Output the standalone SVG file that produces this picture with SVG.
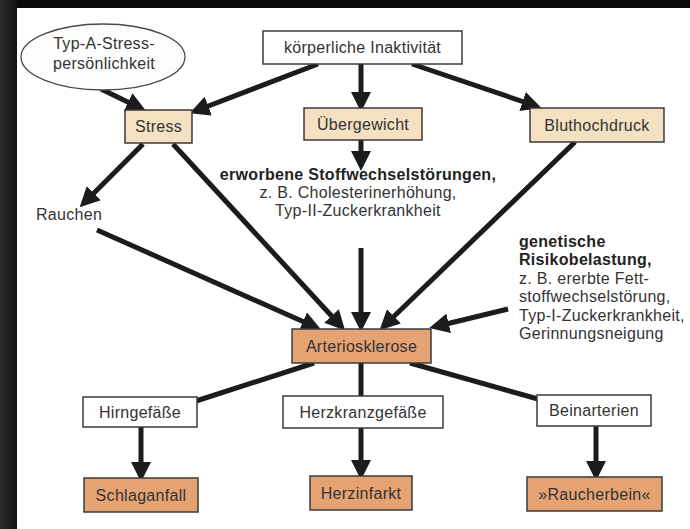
<svg xmlns="http://www.w3.org/2000/svg" width="690" height="529" viewBox="0 0 690 529">
<defs>
<style>
.bx{stroke:#3a3a3a;stroke-width:1.5}
.lt{fill:#f4e1c1}
.dk{fill:#e5a374}
.wh{fill:#ffffff}
.t{font-family:"Liberation Sans",Arial,sans-serif;font-size:16px;fill:#333;letter-spacing:0.3px}
.b{font-weight:bold;fill:#222}
.c{stroke:#1c1c1c;stroke-width:5;fill:none}
</style>
<marker id="ah" markerWidth="4" markerHeight="4" refX="2.2" refY="2" orient="auto" markerUnits="strokeWidth" viewBox="0 0 4 4">
<path d="M0,0 L4,2 L0,4 Z" fill="#1c1c1c"/>
</marker>
<linearGradient id="lg" x1="0" x2="1" y1="0" y2="0">
<stop offset="0" stop-color="#2c2c2c"/>
<stop offset="1" stop-color="#111"/>
</linearGradient>
</defs>
<rect x="0" y="0" width="690" height="529" fill="#0a0a0a"/>
<rect x="0" y="0" width="17" height="529" fill="url(#lg)"/>
<rect x="17" y="8" width="673" height="521" fill="#ffffff"/>

<g id="connectors">
<line class="c" x1="101" y1="89" x2="138" y2="107" marker-end="url(#ah)"/>
<line class="c" x1="318" y1="64" x2="198" y2="110" marker-end="url(#ah)"/>
<line class="c" x1="361" y1="64" x2="361" y2="103" marker-end="url(#ah)"/>
<line class="c" x1="412" y1="64" x2="533" y2="105" marker-end="url(#ah)"/>
<line class="c" x1="361" y1="140" x2="361" y2="162" marker-end="url(#ah)"/>
<line class="c" x1="143" y1="144" x2="86" y2="201" marker-end="url(#ah)"/>
<line class="c" x1="173" y1="144" x2="339" y2="324" marker-end="url(#ah)"/>
<line class="c" x1="97" y1="230" x2="313" y2="326" marker-end="url(#ah)"/>
<line class="c" x1="361" y1="248" x2="361" y2="323" marker-end="url(#ah)"/>
<line class="c" x1="575" y1="142" x2="386" y2="324" marker-end="url(#ah)"/>
<line class="c" x1="508" y1="309" x2="438" y2="326" marker-end="url(#ah)"/>
<line class="c" x1="314" y1="363" x2="196" y2="401"/>
<line class="c" x1="361" y1="363" x2="361" y2="396"/>
<line class="c" x1="410" y1="363" x2="538" y2="399"/>
<line class="c" x1="141" y1="427" x2="141" y2="473" marker-end="url(#ah)"/>
<line class="c" x1="361" y1="428" x2="361" y2="471" marker-end="url(#ah)"/>
<line class="c" x1="596" y1="426" x2="596" y2="472" marker-end="url(#ah)"/>
</g>

<g id="typA">
<ellipse cx="103" cy="57" rx="82" ry="33" fill="#fdfdfd" stroke="#4a4a4a" stroke-width="1.3"/>
<text class="t" x="104" y="49" text-anchor="middle">Typ-A-Stress-</text>
<text class="t" x="104" y="69" text-anchor="middle">persönlichkeit</text>
</g>

<g id="inaktivitaet">
<rect class="bx wh" x="263" y="31" width="199" height="33"/>
<text class="t" x="362.5" y="53" text-anchor="middle">körperliche Inaktivität</text>
</g>

<g id="stress">
<rect class="bx lt" x="125" y="110" width="67" height="33"/>
<text class="t" x="158.5" y="132" text-anchor="middle">Stress</text>
</g>

<g id="uebergewicht">
<rect class="bx lt" x="304" y="108" width="118" height="32"/>
<text class="t" x="363" y="130" text-anchor="middle">Übergewicht</text>
</g>

<g id="bluthochdruck">
<rect class="bx lt" x="530" y="108" width="134" height="34"/>
<text class="t" x="597" y="131" text-anchor="middle">Bluthochdruck</text>
</g>

<g id="rauchen">
<text class="t" x="36" y="220">Rauchen</text>
</g>

<g id="stoffwechsel">
<text class="t b" x="358" y="180" text-anchor="middle">erworbene Stoffwechselstörungen,</text>
<text class="t" x="358" y="198" text-anchor="middle">z. B. Cholesterinerhöhung,</text>
<text class="t" x="358" y="216" text-anchor="middle">Typ-II-Zuckerkrankheit</text>
</g>

<g id="genetisch">
<text class="t b" x="519" y="247">genetische</text>
<text class="t b" x="519" y="265">Risikobelastung,</text>
<text class="t" x="519" y="284">z. B. ererbte Fett-</text>
<text class="t" x="519" y="302">stoffwechselstörung,</text>
<text class="t" x="519" y="321">Typ-I-Zuckerkrankheit,</text>
<text class="t" x="519" y="339">Gerinnungsneigung</text>
</g>

<g id="arteriosklerose">
<rect class="bx dk" x="292" y="329" width="139" height="34"/>
<text class="t" x="361.5" y="352" text-anchor="middle">Arteriosklerose</text>
</g>

<g id="hirngefaesse">
<rect class="bx wh" x="83" y="397" width="114" height="30"/>
<text class="t" x="140" y="418" text-anchor="middle">Hirngefäße</text>
</g>

<g id="herzkranzgefaesse">
<rect class="bx wh" x="283" y="396" width="160" height="32"/>
<text class="t" x="363" y="418" text-anchor="middle">Herzkranzgefäße</text>
</g>

<g id="beinarterien">
<rect class="bx wh" x="537" y="395" width="114" height="31"/>
<text class="t" x="594" y="416" text-anchor="middle">Beinarterien</text>
</g>

<g id="schlaganfall">
<rect class="bx dk" x="84" y="478" width="114" height="34"/>
<text class="t" x="141" y="501" text-anchor="middle">Schlaganfall</text>
</g>

<g id="herzinfarkt">
<rect class="bx dk" x="310" y="476" width="102" height="34"/>
<text class="t" x="361" y="499" text-anchor="middle">Herzinfarkt</text>
</g>

<g id="raucherbein">
<rect class="bx dk" x="527" y="477" width="135" height="34"/>
<text class="t" x="594.5" y="500" text-anchor="middle">»Raucherbein«</text>
</g>
</svg>
